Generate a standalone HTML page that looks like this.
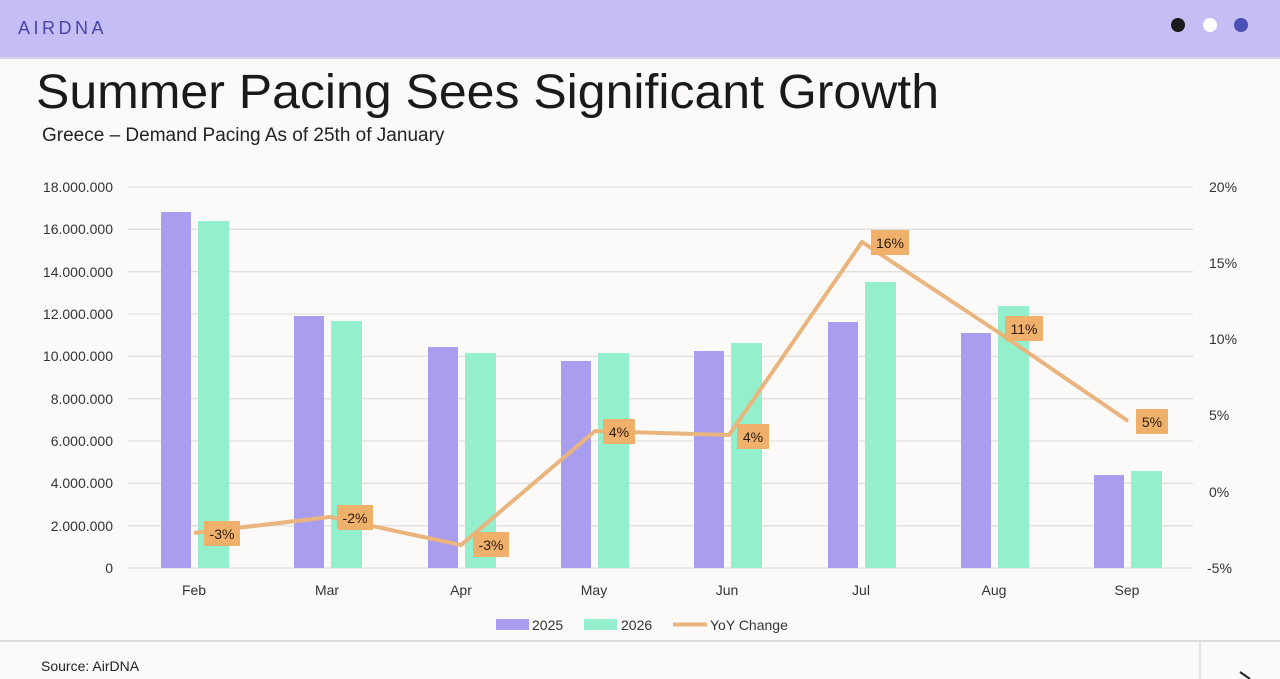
<!DOCTYPE html>
<html><head><meta charset="utf-8"><style>
body{margin:0;width:1280px;height:679px;overflow:hidden;background:#fbfaf8;font-family:"Liberation Sans",sans-serif}
</style></head><body>
<svg width="1280" height="679" xmlns="http://www.w3.org/2000/svg" style="position:absolute;left:0;top:0">
<rect x="0" y="0" width="1280" height="57" fill="#c5bef5"/>
<rect x="0" y="57" width="1280" height="2" fill="#d6d2e8"/>
<text x="18" y="34" font-size="18" fill="#4a44a8" letter-spacing="3.5" font-family="Liberation Sans, sans-serif">AIRDNA</text>
<circle cx="1178" cy="25" r="7" fill="#1a1a1a"/>
<circle cx="1210" cy="25" r="7" fill="#ffffff"/>
<circle cx="1241" cy="25" r="7" fill="#4a4fb8"/>
<text x="36" y="108" font-size="48" fill="#1a1a1a" textLength="903" lengthAdjust="spacingAndGlyphs">Summer Pacing Sees Significant Growth</text>
<text x="42" y="141" font-size="19" fill="#222">Greece – Demand Pacing As of 25th of January</text>
<g stroke="#e2e0df" stroke-width="1.3">
<line x1="128" x2="1193" y1="187" y2="187"/><line x1="128" x2="1193" y1="229.3" y2="229.3"/>
<line x1="128" x2="1193" y1="271.7" y2="271.7"/><line x1="128" x2="1193" y1="314" y2="314"/>
<line x1="128" x2="1193" y1="356.3" y2="356.3"/><line x1="128" x2="1193" y1="398.7" y2="398.7"/>
<line x1="128" x2="1193" y1="441" y2="441"/><line x1="128" x2="1193" y1="483.3" y2="483.3"/>
<line x1="128" x2="1193" y1="525.7" y2="525.7"/><line x1="128" x2="1193" y1="568" y2="568"/>
</g>
<g font-size="14" fill="#333" text-anchor="end">
<text x="113" y="192">18.000.000</text><text x="113" y="234">16.000.000</text><text x="113" y="277">14.000.000</text>
<text x="113" y="319">12.000.000</text><text x="113" y="361">10.000.000</text><text x="113" y="404">8.000.000</text>
<text x="113" y="446">6.000.000</text><text x="113" y="488">4.000.000</text><text x="113" y="531">2.000.000</text><text x="113" y="573">0</text>
</g>
<g font-size="14" fill="#333">
<text x="1209" y="192">20%</text><text x="1209" y="268">15%</text><text x="1209" y="344">10%</text>
<text x="1209" y="420">5%</text><text x="1209" y="497">0%</text><text x="1207" y="573">-5%</text>
</g>
<g fill="#a99df0">
<rect x="161" y="212" width="30" height="356"/><rect x="294" y="316" width="30" height="252"/>
<rect x="428" y="347" width="30" height="221"/><rect x="561" y="361" width="30" height="207"/>
<rect x="694" y="351" width="30" height="217"/><rect x="828" y="322" width="30" height="246"/>
<rect x="961" y="333" width="30" height="235"/><rect x="1094" y="475" width="30" height="93"/>
</g>
<g fill="#93efcc">
<rect x="198" y="221" width="31" height="347"/><rect x="331" y="321" width="31" height="247"/>
<rect x="465" y="353" width="31" height="215"/><rect x="598" y="353" width="31" height="215"/>
<rect x="731" y="343" width="31" height="225"/><rect x="865" y="282" width="31" height="286"/>
<rect x="998" y="306" width="31" height="262"/><rect x="1131" y="471" width="31" height="97"/>
</g>
<polyline points="194,533 330,517 461,545 595,431 729,435 862,242 995,330 1128,421" fill="none" stroke="#e9b47d" stroke-width="4" stroke-linejoin="round"/>
<g fill="#efb06c">
<rect x="204" y="521" width="36" height="25"/><rect x="337" y="505" width="36" height="25"/>
<rect x="473" y="532" width="36" height="25"/><rect x="603" y="419" width="32" height="25"/>
<rect x="737" y="424" width="32" height="25"/><rect x="871" y="230" width="38" height="25"/>
<rect x="1005" y="316" width="38" height="25"/><rect x="1136" y="409" width="32" height="25"/>
</g>
<g font-size="14" fill="#2a1a0a" text-anchor="middle">
<text x="222" y="539">-3%</text><text x="355" y="523">-2%</text><text x="491" y="550">-3%</text>
<text x="619" y="437">4%</text><text x="753" y="442">4%</text><text x="890" y="248">16%</text>
<text x="1024" y="334">11%</text><text x="1152" y="427">5%</text>
</g>
<g font-size="14" fill="#333" text-anchor="middle">
<text x="194" y="595">Feb</text><text x="327" y="595">Mar</text><text x="461" y="595">Apr</text><text x="594" y="595">May</text>
<text x="727" y="595">Jun</text><text x="861" y="595">Jul</text><text x="994" y="595">Aug</text><text x="1127" y="595">Sep</text>
</g>
<rect x="496" y="619" width="33" height="11" fill="#a99df0"/>
<text x="532" y="630" font-size="14" fill="#333">2025</text>
<rect x="584" y="619" width="33" height="11" fill="#93efcc"/>
<text x="621" y="630" font-size="14" fill="#333">2026</text>
<line x1="673" x2="707" y1="624.5" y2="624.5" stroke="#e9b47d" stroke-width="4"/>
<text x="710" y="630" font-size="14" fill="#333">YoY Change</text>
<line x1="0" x2="1280" y1="641" y2="641" stroke="#dcdcdc" stroke-width="2"/>
<line x1="1200" x2="1200" y1="641" y2="679" stroke="#dcdcdc" stroke-width="1.5"/>
<text x="41" y="671" font-size="14" fill="#222">Source: AirDNA</text>
<path d="M1240 672 L1250 679" stroke="#222" stroke-width="2"/>
</svg>
</body></html>
